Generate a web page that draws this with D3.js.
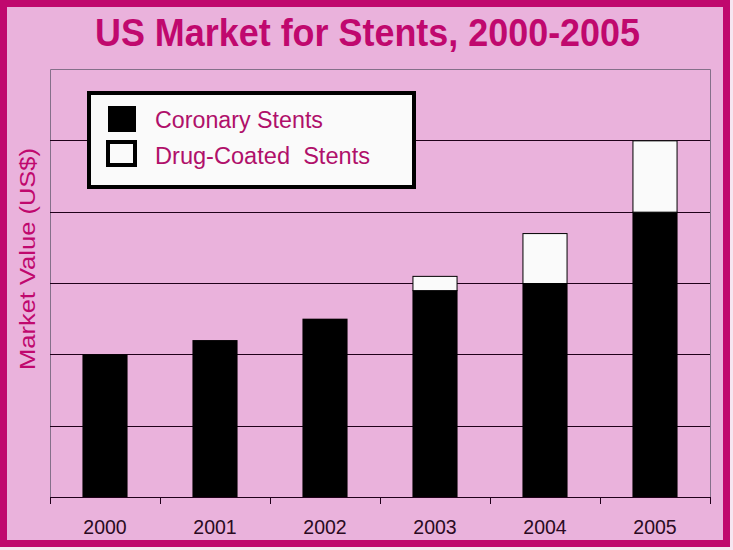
<!DOCTYPE html>
<html><head><meta charset="utf-8">
<script src="https://cdn.jsdelivr.net/npm/d3@7"></script>
<style>html,body{margin:0;padding:0;background:#f6e6f1;}svg{display:block;}</style>
</head><body>
<script>
const years = ["2000","2001","2002","2003","2004","2005"];
const coronary = [2.0, 2.2, 2.5, 2.9, 3.0, 4.0];
const drugCoated = [0, 0, 0, 0.2, 0.7, 1.0];
const yTicks = [0,1,2,3,4,5,6];
const seriesNames = ["Coronary Stents", "Drug-Coated  Stents"];

const W = 733, H = 550;
const magenta = "#c0086e", bg = "#eab2dc";
const font = "Liberation Sans, Arial, sans-serif";
const svg = d3.select("body").append("svg").attr("width", W).attr("height", H);

svg.append("rect").attr("x",3.5).attr("y",3.5).attr("width",723).attr("height",540)
  .attr("fill",bg).attr("stroke",magenta).attr("stroke-width",7);

const m = {left:50, right:710, top:69, bottom:497};
const x = d3.scaleBand().domain(years).range([m.left, m.right]).paddingInner(0.59).paddingOuter(0.295);
const y = d3.scaleLinear().domain([0,6]).range([m.bottom, m.top]);

// frame
svg.append("path").attr("d",`M${m.left+0.5},${m.bottom}V${m.top+0.5}H${m.right+0.5}V${m.bottom}`)
  .attr("fill","none").attr("stroke","#85708a").attr("stroke-width",1);

// gridlines
svg.append("g").selectAll("line").data(yTicks.slice(1,-1)).join("line")
  .attr("x1",m.left).attr("x2",m.right).attr("y1",d=>Math.round(y(d))+0.5).attr("y2",d=>Math.round(y(d))+0.5)
  .attr("stroke","#20001a").attr("stroke-width",1);

// bars
const g = svg.append("g");
years.forEach((yr,i)=>{
  const c = coronary[i], d = drugCoated[i];
  g.append("rect").attr("x",x(yr)).attr("width",x.bandwidth())
    .attr("y",y(c)).attr("height",y(0)-y(c)).attr("fill","#000");
  if (d > 0) {
    g.append("rect").attr("x",x(yr)+0.5).attr("width",x.bandwidth()-1)
      .attr("y",y(c+d)+0.5).attr("height",y(c)-y(c+d)).attr("fill","#fafafa")
      .attr("stroke","#000").attr("stroke-width",1);
  }
});

// x axis
const xBounds = d3.range(years.length+1).map(i=>m.left + i*(m.right-m.left)/years.length);
const ax = svg.append("g");
ax.append("line").attr("x1",m.left).attr("x2",m.right).attr("y1",m.bottom+0.5).attr("y2",m.bottom+0.5)
  .attr("stroke","#20001a");
ax.selectAll("line.t").data(xBounds).join("line").attr("class","t")
  .attr("x1",d=>Math.round(d)+0.5).attr("x2",d=>Math.round(d)+0.5).attr("y1",m.bottom).attr("y2",m.bottom+7)
  .attr("stroke","#20001a");
ax.selectAll("text").data(years).join("text")
  .attr("x",d=>x(d)+x.bandwidth()/2).attr("y",534).attr("text-anchor","middle")
  .attr("font-family",font).attr("font-size",19.5).attr("fill","#2a0a22")
  .text(d=>d);

// title
svg.append("text").attr("x",367.5).attr("y",46).attr("text-anchor","middle")
  .attr("font-family",font).attr("font-weight","bold")
  .attr("font-size",38).attr("textLength",545).attr("lengthAdjust","spacingAndGlyphs")
  .attr("fill",magenta).text("US Market for Stents, 2000-2005");

// y label
svg.append("text").attr("transform","translate(35,259) rotate(-90)").attr("text-anchor","middle")
  .attr("font-family",font).attr("font-size",22).attr("textLength",222).attr("lengthAdjust","spacingAndGlyphs")
  .attr("fill",magenta).text("Market Value (US$)");

// legend
const lg = svg.append("g");
lg.append("rect").attr("x",89).attr("y",93).attr("width",325).attr("height",94)
  .attr("fill","#fafafa").attr("stroke","#000").attr("stroke-width",4);
lg.append("rect").attr("x",108).attr("y",106).attr("width",28).attr("height",26).attr("fill","#000");
lg.append("rect").attr("x",108).attr("y",142).attr("width",27).attr("height",23).attr("fill","#fafafa")
  .attr("stroke","#000").attr("stroke-width",4);
const legendWidths = [168, 215];
lg.selectAll("text").data(seriesNames).join("text")
  .attr("x",155).attr("y",(d,i)=>128+i*36).attr("xml:space","preserve").style("white-space","pre")
  .attr("font-family",font).attr("font-size",23)
  .attr("textLength",(d,i)=>legendWidths[i]).attr("lengthAdjust","spacingAndGlyphs")
  .attr("fill","#b0106a")
  .text(d=>d);
</script>
</body></html>
